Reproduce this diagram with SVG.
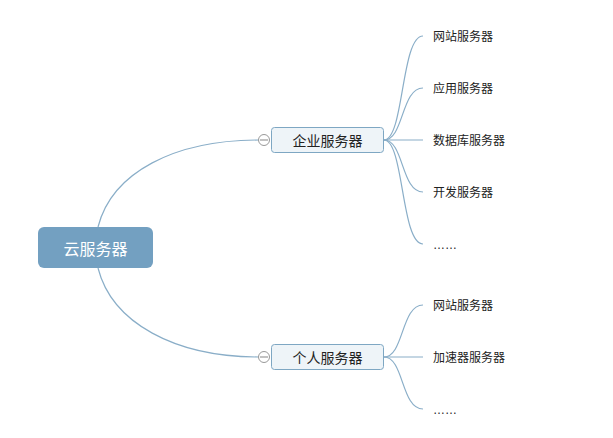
<svg xmlns="http://www.w3.org/2000/svg" width="613" height="438" viewBox="0 0 613 438">
<style>
.ln{fill:none;stroke:#8aaec8;stroke-width:1.2}
.sub{fill:#eef4f8;stroke:#7ea7c3;stroke-width:1}
.t{font-family:"Noto Sans CJK SC","Noto Sans",sans-serif;fill:#222}
.leaf{font-size:12px}
.dots{font-family:"Liberation Sans",sans-serif;font-size:12px;fill:#222}
.mid{font-size:14px;text-anchor:middle}
.tog{fill:#fff;stroke:#999;stroke-width:1}
</style>
<rect width="613" height="438" fill="#fff"/>
<g id="connectors">
<path class="ln" d="M98,227 C112,172 175,140 259,140"/>
<path class="ln" d="M98,268 C112,323 175,357 259,357"/>
<path class="ln" d="M384,140 C404,140 401,36 423,36"/>
<path class="ln" d="M384,140 C404,140 401,88 423,88"/>
<path class="ln" d="M384,140 L423,140"/>
<path class="ln" d="M384,140 C404,140 401,192 423,192"/>
<path class="ln" d="M384,140 C404,140 401,244 423,244"/>
<path class="ln" d="M384,357 C404,357 401,305 423,305"/>
<path class="ln" d="M384,357 L423,357"/>
<path class="ln" d="M384,357 C404,357 401,409 423,409"/>
</g>
<g id="root">
<rect x="38" y="227" width="115" height="41" rx="6" fill="#73a0c1"/>
<text class="t" x="95.5" y="254.5" font-size="16" text-anchor="middle" style="fill:#fff">云服务器</text>
</g>
<g id="enterprise">
<rect class="sub" x="271.5" y="127.5" width="112" height="25" rx="3"/>
<text class="t mid" x="327.5" y="145.5">企业服务器</text>
<circle class="tog" cx="264" cy="140" r="5.5"/>
<line x1="260" y1="140" x2="268" y2="140" stroke="#999" stroke-width="1.2"/>
</g>
<g id="personal">
<rect class="sub" x="271.5" y="344.5" width="112" height="25" rx="3"/>
<text class="t mid" x="327.5" y="362.5">个人服务器</text>
<circle class="tog" cx="264" cy="357" r="5.5"/>
<line x1="260" y1="357" x2="268" y2="357" stroke="#999" stroke-width="1.2"/>
</g>
<g id="e1"><text class="t leaf" x="433" y="41">网站服务器</text></g>
<g id="e2"><text class="t leaf" x="433" y="93">应用服务器</text></g>
<g id="e3"><text class="t leaf" x="433" y="145">数据库服务器</text></g>
<g id="e4"><text class="t leaf" x="433" y="197">开发服务器</text></g>
<g id="e5"><text class="dots" x="433" y="249">……</text></g>
<g id="p1"><text class="t leaf" x="433" y="310">网站服务器</text></g>
<g id="p2"><text class="t leaf" x="433" y="362">加速器服务器</text></g>
<g id="p3"><text class="dots" x="433" y="414">……</text></g>
</svg>
